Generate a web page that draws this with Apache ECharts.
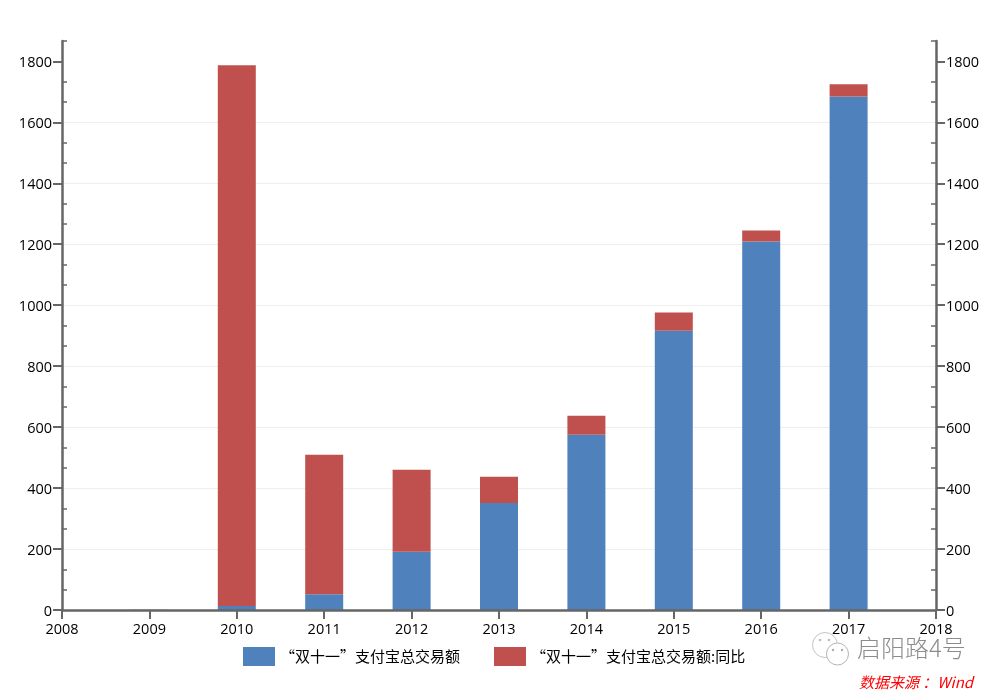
<!DOCTYPE html>
<html>
<head>
<meta charset="utf-8">
<title>双十一</title>
<script src="https://cdn.jsdelivr.net/npm/echarts@6/dist/echarts.min.js"></script>
<style>
  html, body { margin: 0; padding: 0; background: #fff; }
  #chart { width: 998px; height: 694px; }
</style>
</head>
<body>
<div id="chart"></div>
<script>
// 图表数据
const years = ["2008", "2009", "2010", "2011", "2012", "2013", "2014", "2015", "2016", "2017", "2018"];
const amount = [null, 0.5, 13, 52, 191, 351, 575, 916, 1209, 1685, null];
const amountYoy = [null, null, 1774, 457, 269, 86, 62, 60, 36, 40, null];
// 坐标轴刻度
const majorTicks = [0, 200, 400, 600, 800, 1000, 1200, 1400, 1600, 1800];
const minorTicks = [66.67, 133.33, 266.67, 333.33, 466.67, 533.33, 666.67, 733.33, 866.67, 933.33,
  1066.67, 1133.33, 1266.67, 1333.33, 1466.67, 1533.33, 1666.67, 1733.33, 1866.67];
const yMax = 1866.67;
const legendNames = ["“双十一”支付宝总交易额", "“双十一”支付宝总交易额:同比"];

const fontFamily = "'Open Sans','Noto Sans CJK SC',sans-serif";
const cjkFont = "'Noto Sans CJK SC',sans-serif";
const axisColor = "#666666";

// 主刻度轴（朝外、带标签）
const majorAxis = (position) => ({
  type: "value",
  position: position,
  min: 0,
  max: yMax,
  interval: 200,
  axisLine: { show: true, onZero: false, lineStyle: { color: axisColor, width: 2.5 } },
  axisTick: { show: true, customValues: majorTicks, length: 9, lineStyle: { color: axisColor, width: 2 } },
  axisLabel: {
    customValues: majorTicks,
    margin: 10,
    color: "#000",
    fontSize: 14.5,
    fontFamily: fontFamily,
    verticalAlign: "top", // 标签比刻度略低一点
    lineHeight: 4,
    formatter: (v) => String(v),
  },
  splitLine: { show: position === "left", showMaxLine: false, showMinLine: false, lineStyle: { color: "#eeeeee", width: 1 } },
});
// 次刻度轴（朝内、无标签）
const minorAxis = (position) => ({
  type: "value",
  position: position,
  min: 0,
  max: yMax,
  interval: 200,
  axisLine: { show: false },
  axisTick: { show: true, inside: true, customValues: minorTicks, length: 5, lineStyle: { color: axisColor, width: 1.5 } },
  axisLabel: { show: false },
  splitLine: { show: false },
});

const chart = echarts.init(document.getElementById("chart"));
chart.setOption({
  animation: false,
  backgroundColor: "#ffffff",
  textStyle: { fontFamily: fontFamily },
  grid: { left: 62, right: 62, top: 41, bottom: 84 },
  legend: {
    left: 243,
    top: 647,
    padding: 0,
    itemWidth: 32,
    itemHeight: 19,
    itemGap: 34,
    icon: "rect",
    textStyle: { fontSize: 15, color: "#000", fontFamily: cjkFont },
    data: legendNames,
  },
  xAxis: {
    type: "category",
    boundaryGap: false,
    data: years,
    z: 3,
    axisLine: { show: true, onZero: false, lineStyle: { color: axisColor, width: 2.5 } },
    axisTick: { show: true, interval: 0, length: 9, lineStyle: { color: axisColor, width: 2 } },
    axisLabel: { interval: 0, color: "#000", fontSize: 14.5, margin: 13, fontFamily: fontFamily },
    splitLine: { show: false },
  },
  yAxis: [majorAxis("left"), majorAxis("right"), minorAxis("left"), minorAxis("right")],
  series: [
    {
      name: legendNames[0],
      type: "bar",
      stack: "total",
      barWidth: 38,
      itemStyle: { color: "#4F81BD" },
      data: amount,
    },
    {
      name: legendNames[1],
      type: "bar",
      stack: "total",
      barWidth: 38,
      itemStyle: { color: "#C0504D" },
      data: amountYoy,
    },
  ],
  graphic: [
    // 水印图标
    { type: "circle", shape: { cx: 825, cy: 645, r: 12.5 }, style: { fill: "#fff", stroke: "#c4c4c4", lineWidth: 1 }, z: 10 },
    { type: "circle", shape: { cx: 837.5, cy: 654, r: 11 }, style: { fill: "#fff", stroke: "#b4b4b4", lineWidth: 1 }, z: 11 },
    { type: "circle", shape: { cx: 820, cy: 640, r: 1.3 }, style: { fill: "#bbb" }, z: 12 },
    { type: "circle", shape: { cx: 829, cy: 640, r: 1.3 }, style: { fill: "#bbb" }, z: 12 },
    { type: "circle", shape: { cx: 833, cy: 650, r: 1.2 }, style: { fill: "#aaa" }, z: 12 },
    { type: "circle", shape: { cx: 842, cy: 650, r: 1.2 }, style: { fill: "#aaa" }, z: 12 },
    {
      type: "text",
      left: 857,
      top: 636,
      z: 12,
      style: { text: "启阳路4号", fill: "#8c8c8c", fontSize: 24, fontFamily: cjkFont, fontWeight: 300 },
    },
    {
      type: "text",
      left: 859,
      top: 675,
      z: 12,
      style: { text: "数据来源 ：Wind", fill: "#ff0000", fontSize: 15, fontStyle: "italic", fontFamily: cjkFont },
    },
  ],
});
</script>
</body>
</html>
